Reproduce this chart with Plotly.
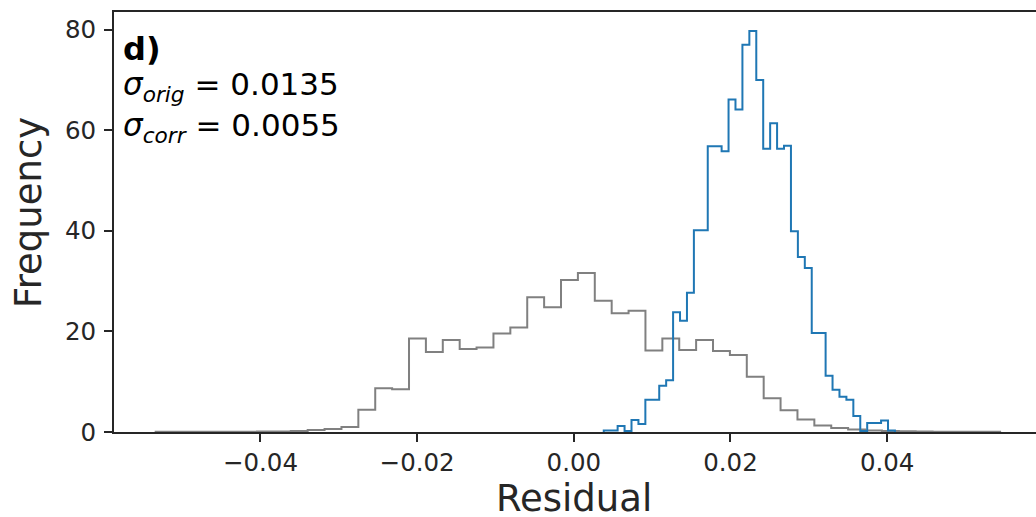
import numpy as np
import plotly.graph_objects as go

# ---- data (density histograms) ----
orig_bin_start = -0.05338
orig_bin_width = 0.002156
orig_density = [0.05, 0.05, 0.05, 0.05, 0.05, 0.05, 0.1, 0.1, 0.2, 0.4, 0.6, 1.0,
                4.4, 8.7, 8.5, 18.6, 15.9, 18.3, 16.5, 16.8, 19.6, 20.8, 26.8, 24.8,
                30.2, 31.6, 26.1, 23.6, 24.1, 16.2, 18.6, 16.3, 18.3, 16.1, 15.3, 11.0,
                6.7, 4.3, 2.5, 1.3, 0.8, 0.5, 0.3, 0.2, 0.15, 0.1, 0.05, 0.05, 0.05, 0.05]

corr_bin_start = 0.003822
corr_bin_width = 0.000885
corr_density = [0.3, 0.3, 1.2, 0.2, 2.4, 1.6, 6.4, 6.4, 9.2, 10.3, 23.8, 22.1,
                27.7, 40.1, 40.1, 56.8, 56.8, 55.8, 66.1, 64.1, 77.0, 79.7, 70.0, 56.3,
                61.4, 56.3, 56.9, 39.9, 34.8, 32.6, 19.7, 19.7, 11.2, 8.4, 7.0, 6.4,
                3.2, 0.2, 1.8, 1.8, 2.3, 0.3]

x_ticks = [-0.04, -0.02, 0.00, 0.02, 0.04]
y_ticks = [0, 20, 40, 60, 80]
x_title = "Residual"
y_title = "Frequency"
panel_label = "d)"
sigma_orig = "0.0135"
sigma_corr = "0.0055"


def step_xy(start, width, vals):
    edges = start + width * np.arange(len(vals) + 1)
    xs = [edges[0]] + list(edges[:-1]) + [edges[-1]]
    ys = [0] + list(vals) + [0]
    return xs, ys


gx, gy = step_xy(orig_bin_start, orig_bin_width, orig_density)
bx, by = step_xy(corr_bin_start, corr_bin_width, corr_density)

fig = go.Figure()
fig.add_trace(go.Scatter(x=gx, y=gy, mode="lines", line_shape="hv",
                         line=dict(color="#808080", width=2), hoverinfo="skip"))
fig.add_trace(go.Scatter(x=bx, y=by, mode="lines", line_shape="hv",
                         line=dict(color="#1f77b4", width=2), hoverinfo="skip"))

axis_color = "#262626"
tick_font = dict(family="DejaVu Sans", size=24.5, color=axis_color)
title_font = dict(family="DejaVu Sans", size=37, color=axis_color)

fig.update_layout(
    width=1036, height=517,
    margin=dict(l=114, r=0, t=12, b=85),
    paper_bgcolor="white", plot_bgcolor="white",
    showlegend=False,
    xaxis=dict(range=[-0.0587, 0.0590], tickvals=x_ticks, tickformat=".2f",
               showgrid=False, zeroline=False, showline=True, mirror=True,
               linecolor=axis_color, linewidth=2, ticks="outside", ticklen=8,
               tickwidth=1.5, tickcolor=axis_color, tickfont=tick_font),
    yaxis=dict(range=[0, 83.5], tickvals=y_ticks, showgrid=False, zeroline=False,
               showline=True, mirror=False, linecolor=axis_color, linewidth=2,
               ticks="outside", ticklen=8, tickwidth=1.5, tickcolor=axis_color,
               tickfont=tick_font, ticklabelstandoff=3),
    font=dict(family="DejaVu Sans", color="black"),
)

# axis titles placed as paper annotations
fig.add_annotation(xref="paper", yref="paper", x=0.499, y=-0.158, xanchor="center",
                   yanchor="middle", showarrow=False, text=x_title, font=title_font)
fig.add_annotation(xref="paper", yref="paper", x=-0.0922, y=0.524, xanchor="center",
                   yanchor="middle", showarrow=False, text=y_title, textangle=-90,
                   font=title_font)

fig.add_annotation(xref="paper", yref="paper", x=0.008, y=0.911, xanchor="left",
                   yanchor="middle", showarrow=False, text="<b>" + panel_label + "</b>",
                   font=dict(family="DejaVu Sans", size=32, color="black"))
fig.add_annotation(xref="paper", yref="paper", x=0.008, y=0.822, xanchor="left",
                   yanchor="middle", showarrow=False,
                   text="<i>σ</i><sub><i>orig</i></sub> = " + sigma_orig,
                   font=dict(family="DejaVu Sans", size=31, color="black"))
fig.add_annotation(xref="paper", yref="paper", x=0.008, y=0.725, xanchor="left",
                   yanchor="middle", showarrow=False,
                   text="<i>σ</i><sub><i>corr</i></sub> = " + sigma_corr,
                   font=dict(family="DejaVu Sans", size=31, color="black"))

fig.write_html("out.html",
               config={"displayModeBar": False},
               post_script="document.body.style.margin='0';document.body.style.padding='0';")
